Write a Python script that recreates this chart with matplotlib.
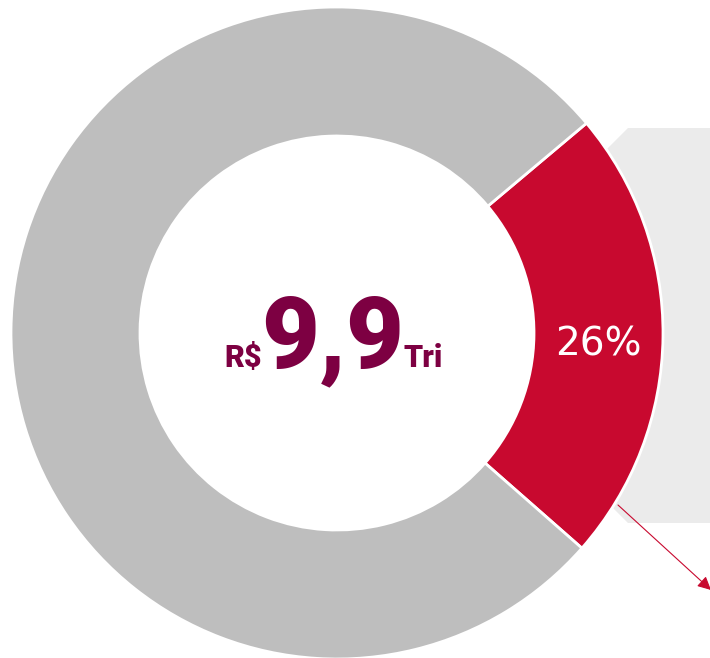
import matplotlib
matplotlib.use("Agg")
import matplotlib.pyplot as plt
import numpy as np
from matplotlib.patches import Polygon

# share of the ring as drawn (red slice vs. remainder), and its label
shares = [22.6, 77.4]
share_colors = ["#C8092F", "#BEBEBE"]
share_label = "26%"
total_prefix = "R$"
total_value = "9,9"
total_suffix = "Tri"

W, H = 710, 658
fig = plt.figure(figsize=(W / 100, H / 100), dpi=100)
ax = fig.add_axes([0, 0, 1, 1])

cx, cy = 337, H - 333
R, r = 326, 197
start = -41.3

# light panel behind the highlighted slice
panel = [(590, 166), (628, 128), (712, 128), (712, 523), (628, 523), (590, 485)]
ax.add_patch(Polygon([(x, H - y) for x, y in panel], closed=True,
                     facecolor="#EBEBEB", edgecolor="none", zorder=0))

wedges, _ = ax.pie(shares, colors=share_colors, startangle=start, counterclock=True,
                   radius=R, center=(cx, cy),
                   wedgeprops=dict(width=R - r, edgecolor="white", linewidth=2))
for w in wedges:
    w.set_zorder(2)

# label in the middle of the red slice
mid = np.deg2rad(start + shares[0] / 100 * 360 / 2)
rm = (R + r) / 2
ax.text(cx + rm * np.cos(mid), cy + rm * np.sin(mid) - 9, share_label,
        color="white", fontsize=28, family="DejaVu Sans", fontweight="normal",
        ha="center", va="center", zorder=3)

# centre total
col = "#7D0042"
base = H - 367
ax.text(262, base, total_prefix, color=col, fontsize=22, family="Roboto",
        fontweight="black", ha="right", va="baseline", zorder=3)
ax.text(333, base, total_value, color=col, fontsize=72, family="Roboto",
        fontweight="black", ha="center", va="baseline", zorder=3)
ax.text(404, base, total_suffix, color=col, fontsize=22, family="Roboto",
        fontweight="black", ha="left", va="baseline", zorder=3)

# pointer arrow
ax.annotate("", xy=(711, H - 590), xytext=(618, H - 505),
            arrowprops=dict(arrowstyle="-|>", color="#C8092F", lw=0.8,
                            mutation_scale=20, shrinkA=0, shrinkB=0),
            annotation_clip=False, zorder=3)

ax.set_xlim(0, W)
ax.set_ylim(0, H)
ax.set_aspect("auto")
ax.axis("off")

fig.savefig("out.png", dpi=100)
